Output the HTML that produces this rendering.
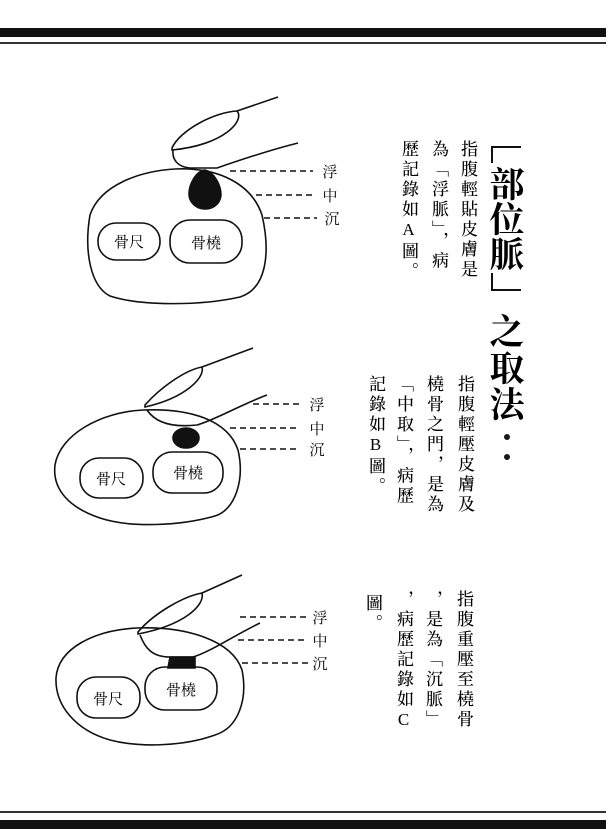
<!DOCTYPE html>
<html><head><meta charset="utf-8"><style>
html,body{margin:0;padding:0;background:#fff}
#p{position:relative;width:612px;height:829px;overflow:hidden;background:#fff;font-family:"Liberation Serif","Noto Serif CJK SC","Noto Serif CJK TC",serif;color:#000}
.col{position:absolute;writing-mode:vertical-rl;text-orientation:upright;font-size:17px;letter-spacing:3px;line-height:17px;white-space:nowrap;font-weight:500}
.t{position:absolute;font-size:35px;font-weight:bold;width:40px;text-align:center;line-height:36px;font-family:"Noto Serif CJK SC","Noto Serif CJK TC",serif}
.b{position:absolute;background:#1a1a1a}
</style></head><body><div id="p">
<div class="b" style="left:0;top:28px;width:606px;height:9px;background:#111"></div>
<div class="b" style="left:0;top:42px;width:606px;height:1.5px;background:#333"></div>
<div class="b" style="left:0;top:811px;width:606px;height:2px;background:#333"></div>
<div class="b" style="left:0;top:820px;width:606px;height:9px;background:#111"></div>

<svg width="612" height="829" style="position:absolute;left:0;top:0" fill="none" stroke="#111" stroke-width="1.6">
<!-- A -->
<path d="M175,169 C220,167 252,185 262,215 C270,250 268,288 240,297 C200,306 140,306 110,296 C90,286 84,250 90,215 C100,185 140,171 175,169 Z"/>
<path d="M205,170 C214,172 221,185 221,195 C220,205 212,209 205,209 C196,209 189,202 189,194 C189,184 196,171 205,170 Z" fill="#111"/>
<rect x="98" y="223" width="62" height="37" rx="18"/>
<rect x="170" y="220" width="72" height="43" rx="20"/>
<path d="M172,148 C180,130 215,112 237,111 C245,120 225,145 172,150 Z"/>
<path d="M237,111 L278,97"/>
<path d="M173,150 C172,160 178,167 190,168 L217,168 C240,160 270,150 298,143"/>
<g stroke-dasharray="6,4" stroke-width="1.4"><path d="M230,171 H313"/><path d="M256,195 H313"/><path d="M264,218 H317"/></g>
<!-- B -->
<path d="M143,410 C190,408 228,420 238,450 C245,480 235,510 215,516 C180,526 130,528 100,518 C70,508 52,490 55,465 C60,435 100,412 143,410 Z"/>
<ellipse cx="186" cy="438" rx="13" ry="10" fill="#111"/>
<rect x="80" y="458" width="63" height="40" rx="19"/>
<rect x="153" y="452" width="70" height="41" rx="19"/>
<path d="M145,405 C160,388 185,370 202,367 C205,378 185,398 145,407 Z"/>
<path d="M202,367 L253,348"/>
<path d="M147,410 C155,422 170,428 197,425 C215,420 240,405 267,395"/>
<g stroke-dasharray="6,4" stroke-width="1.4"><path d="M253,404 H300"/><path d="M230,428 H300"/><path d="M240,449 H300"/></g>
<!-- C -->
<path d="M137,628 C185,626 232,640 242,670 C248,700 238,728 215,735 C185,746 140,748 110,740 C75,730 55,705 56,678 C58,648 95,630 137,628 Z"/>
<path d="M170,657 L195,657 L195,668 L168,668 Z" fill="#111"/>
<rect x="77" y="677" width="63" height="41" rx="19"/>
<rect x="145" y="667" width="72" height="43" rx="20"/>
<path d="M138,632 C155,612 185,596 202,593 C205,605 185,625 138,634 Z"/>
<path d="M202,593 L242,575"/>
<path d="M140,635 C145,648 152,657 170,657 L193,657 C210,652 235,635 260,623"/>
<g stroke-dasharray="6,4" stroke-width="1.4"><path d="M240,617 H307"/><path d="M238,640 H307"/><path d="M242,663 H308"/></g>
<!-- title brackets -->
<path d="M492,163 V147 H521" stroke-width="2"/>
<path d="M492,273 V290 H521" stroke-width="2"/>
</svg>

<svg width="612" height="829" style="position:absolute;left:0;top:0" font-family="Noto Serif CJK SC, serif" font-size="15" fill="#000" text-anchor="middle">
<text x="129" y="247">骨尺</text><text x="206" y="248">骨橈</text>
<text x="330" y="177">浮</text><text x="330" y="201">中</text><text x="332" y="224">沉</text>
<text x="111" y="484">骨尺</text><text x="188" y="478">骨橈</text>
<text x="317" y="410">浮</text><text x="317" y="434">中</text><text x="317" y="455">沉</text>
<text x="108" y="704">骨尺</text><text x="181" y="695">骨橈</text>
<text x="320" y="623">浮</text><text x="320" y="646">中</text><text x="320" y="669">沉</text>
</svg>

<div class="t" style="left:487px;top:165px">部</div>
<div class="t" style="left:487px;top:200px">位</div>
<div class="t" style="left:487px;top:235px">脈</div>
<div class="t" style="left:487px;top:312px">之</div>
<div class="t" style="left:487px;top:349px">取</div>
<div class="t" style="left:487px;top:385px">法</div>
<div class="b" style="left:504px;top:434px;width:6px;height:6px;border-radius:3px"></div>
<div class="b" style="left:504px;top:454px;width:6px;height:6px;border-radius:3px"></div>

<div class="col" style="left:459px;top:140px">指腹輕貼皮膚是</div>
<div class="col" style="left:430px;top:140px">為「浮脈」，病</div>
<div class="col" style="left:400px;top:140px">歷記錄如A圖。</div>

<div class="col" style="left:456px;top:375px">指腹輕壓皮膚及</div>
<div class="col" style="left:425px;top:375px">橈骨之門，是為</div>
<div class="col" style="left:395px;top:375px">「中取」，病歷</div>
<div class="col" style="left:367px;top:375px">記錄如B圖。</div>

<div class="col" style="left:455px;top:590px">指腹重壓至橈骨</div>
<div class="col" style="left:424px;top:590px">，是為「沉脈」</div>
<div class="col" style="left:395px;top:590px">，病歷記錄如C</div>
<div class="col" style="left:364px;top:594px">圖。</div>
</div></body></html>
